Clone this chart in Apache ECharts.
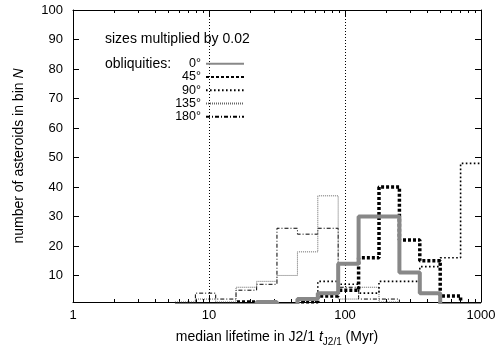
<!DOCTYPE html>
<html>
<head>
<meta charset="utf-8">
<script src="https://cdn.jsdelivr.net/npm/echarts@6/dist/echarts.min.js"></script>
<style>
  html, body { margin: 0; padding: 0; background: #fff; }
  #chart { width: 500px; height: 352px; }
</style>
</head>
<body>
<div id="chart"></div>
<script>
// bin edges (Myr), bins are 0.15 dex wide
const binEdges = [5.62, 7.94, 11.2, 15.8, 22.4, 31.6, 44.7, 63.1, 89.1, 125.9, 177.8, 251.2, 354.8, 501.2, 707.9, 1000];
const obliquities = ['0°', '45°', '90°', '135°', '180°'];
// counts per bin (one value per bin, left edge = binEdges[i])
const counts0 = [0, 0, 0, 0, 1, 0, 2, 4, 14, 30, 30, 11, 4, 0, 0];
const counts45 = [0, 0, 0, 1, 0, 0, 1, 3, 5, 16, 40, 22, 15, 3, 0];
const counts90 = [0, 0, 0, 0, 0, 0, 0, 8, 7, 4, 8, 8, 13, 16, 48];
const counts135 = [1, 2, 1, 6, 8, 10, 18, 37, 2, 6, 1, 0, 0, 0, 0];
const counts180 = [0, 4, 2, 5, 7, 26, 24, 26, 6, 2, 2, 0, 0, 0, 0];
const yTicks = [10, 20, 30, 40, 50, 60, 70, 80, 90, 100];
const xMinorTicks = [2, 3, 4, 5, 6, 7, 8, 9, 20, 30, 40, 50, 60, 70, 80, 90, 200, 300, 400, 500, 600, 700, 800, 900];

const font = 'Liberation Sans';
const allCounts = [counts0, counts45, counts90, counts135, counts180];
const styles = [
  { color: '#888888', width: 4, type: 'solid' },
  { color: '#000000', width: 3.5, type: [3, 2] },
  { color: '#000000', width: 1.6, type: [1.6, 2.4] },
  { color: '#666666', width: 1, type: [1, 1] },
  { color: '#000000', width: 1, type: [4, 2, 1, 2] }
];

function histSteps(counts) {
  // step line through the left edge of each bin, closed at the last edge
  return binEdges.map(function (x, i) {
    return [x, i < counts.length ? counts[i] : counts[counts.length - 1]];
  });
}

const chart = echarts.init(document.getElementById('chart'));

const frameLine = { show: true, lineStyle: { color: '#000', width: 1 } };

const option = {
  animation: false,
  textStyle: { fontFamily: font },
  grid: { left: 73, right: 19, top: 10, bottom: 49 },
  legend: {
    data: obliquities,
    orient: 'vertical',
    align: 'right',
    right: 250,
    top: 52,
    itemWidth: 38,
    itemHeight: 10,
    itemGap: 0,
    itemStyle: { opacity: 0 },
    textStyle: { fontFamily: font, fontSize: 12.5, color: '#000', lineHeight: 13.3 },
    inactiveColor: '#000'
  },
  graphic: [
    { type: 'text', left: 105, top: 32, style: { text: 'sizes multiplied by 0.02', fontFamily: font, fontSize: 14, fill: '#000' } },
    { type: 'text', left: 105, top: 57, style: { text: 'obliquities:', fontFamily: font, fontSize: 14, fill: '#000' } }
  ],
  xAxis: [
    {
      type: 'log', logBase: 10, min: 1, max: 1000, position: 'bottom',
      axisLine: frameLine,
      axisTick: { inside: true, length: 6, lineStyle: { color: '#000' } },
      axisLabel: {
        color: '#000', fontSize: 13, margin: 7, fontFamily: font,
        formatter: function (v) { return String(Math.round(v)); }
      },
      splitLine: { show: true, lineStyle: { color: '#000', width: 1, type: [1, 2] } },
      minorTick: { show: false },
      name: 'median lifetime in J2/1 {i|t}{sub|J2/1} (Myr)',
      nameLocation: 'middle', nameGap: 26,
      nameTextStyle: {
        color: '#000', fontSize: 14, fontFamily: font,
        rich: {
          i: { fontStyle: 'italic', fontSize: 14, fontFamily: font, color: '#000' },
          sub: { fontSize: 10, fontFamily: font, color: '#000', padding: [9, 0, 0, 0] }
        }
      }
    },
    {
      type: 'log', logBase: 10, min: 1, max: 1000, position: 'bottom',
      axisLine: { show: false },
      axisTick: { inside: true, length: 3, customValues: xMinorTicks, lineStyle: { color: '#000' } },
      axisLabel: { show: false },
      splitLine: { show: false }
    },
    {
      type: 'log', logBase: 10, min: 1, max: 1000, position: 'top',
      axisLine: frameLine,
      axisTick: { inside: true, length: 6, lineStyle: { color: '#000' } },
      axisLabel: { show: false },
      splitLine: { show: false }
    },
    {
      type: 'log', logBase: 10, min: 1, max: 1000, position: 'top',
      axisLine: { show: false },
      axisTick: { inside: true, length: 3, customValues: xMinorTicks, lineStyle: { color: '#000' } },
      axisLabel: { show: false },
      splitLine: { show: false }
    }
  ],
  yAxis: [
    {
      type: 'value', min: 1, max: 100, position: 'left',
      axisLine: frameLine,
      axisTick: { inside: true, length: 6, customValues: yTicks, lineStyle: { color: '#000' } },
      axisLabel: { color: '#000', fontSize: 13, margin: 10, fontFamily: font, customValues: yTicks },
      splitLine: { show: false },
      name: 'number of asteroids in bin {i|N}',
      nameLocation: 'middle', nameGap: 47,
      nameTextStyle: {
        color: '#000', fontSize: 14, fontFamily: font,
        rich: { i: { fontStyle: 'italic', fontSize: 14, fontFamily: font, color: '#000' } }
      }
    },
    {
      type: 'value', min: 1, max: 100, position: 'right',
      axisLine: frameLine,
      axisTick: { inside: true, length: 6, customValues: yTicks, lineStyle: { color: '#000' } },
      axisLabel: { show: false },
      splitLine: { show: false }
    }
  ],
  series: obliquities.map(function (name, i) {
    return {
      name: name,
      type: 'line',
      xAxisIndex: 0,
      yAxisIndex: 0,
      step: 'end',
      symbol: 'none',
      silent: true,
      clip: true,
      color: styles[i].color,
      lineStyle: styles[i],
      data: histSteps(allCounts[i])
    };
  }).reverse()
};

chart.setOption(option);
</script>
</body>
</html>
